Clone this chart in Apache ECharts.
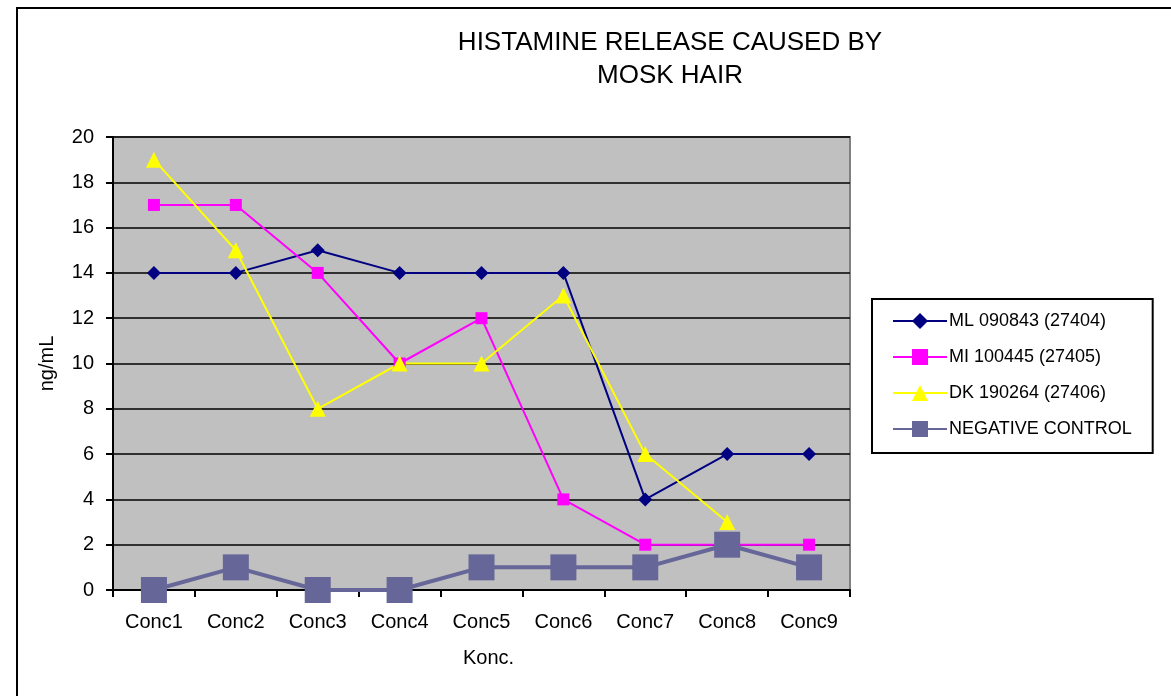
<!DOCTYPE html>
<html>
<head>
<meta charset="utf-8">
<script src="https://cdn.jsdelivr.net/npm/echarts@6/dist/echarts.min.js"></script>
<style>
  html, body { margin: 0; padding: 0; background: #fff; }
  #chart { width: 1171px; height: 696px; }
</style>
</head>
<body>
<div id="chart"></div>
<script>
// data
const categories = ['Conc1', 'Conc2', 'Conc3', 'Conc4', 'Conc5', 'Conc6', 'Conc7', 'Conc8', 'Conc9']
const ml090843 = [14, 14, 15, 14, 14, 14, 4, 6, 6]
const mi100445 = [17, 17, 14, 10, 12, 4, 2, 2, 2]
const dk190264 = [19, 15, 8, 10, 10, 13, 6, 3, null]
const negControl = [0, 1, 0, 0, 1, 1, 1, 2, 1]

const font = 'Arial, "Liberation Sans", sans-serif'

const chart = echarts.init(document.getElementById('chart'))

const option = {
  animation: false,
  backgroundColor: '#fff',
  textStyle: { fontFamily: font },
  graphic: [
    {
      type: 'rect',
      shape: { x: 17, y: 8, width: 1200, height: 720 },
      style: { fill: 'none', stroke: '#000', lineWidth: 2 },
      z: -1
    }
  ],
  title: {
    text: 'HISTAMINE RELEASE CAUSED BY\nMOSK HAIR',
    left: 665,
    top: 21,
    textAlign: 'center',
    textStyle: { fontSize: 26, fontWeight: 'normal', color: '#000', lineHeight: 33, fontFamily: font }
  },
  legend: {
    orient: 'vertical',
    left: 872,
    top: 299,
    padding: [13, 21, 15, 20],
    itemGap: 18,
    itemWidth: 54,
    itemHeight: 20,
    borderColor: '#000',
    borderWidth: 2,
    textStyle: { fontSize: 18, color: '#000', fontFamily: font, padding: [0, 0, 0, -3] },
    data: ['ML 090843 (27404)', 'MI 100445 (27405)', 'DK 190264 (27406)', 'NEGATIVE CONTROL']
  },
  grid: {
    left: 113,
    right: 321,
    top: 137,
    bottom: 106,
    show: true,
    backgroundColor: '#c0c0c0',
    borderColor: '#808080',
    borderWidth: 2
  },
  xAxis: {
    type: 'category',
    data: categories,
    boundaryGap: true,
    name: 'Konc.',
    nameLocation: 'middle',
    nameGap: 58,
    nameTextStyle: { fontSize: 20, color: '#000', padding: [0, 0, 0, 14] },
    axisLine: { lineStyle: { color: '#000', width: 2 } },
    axisTick: { show: true, length: 7, lineStyle: { color: '#000', width: 2 } },
    axisLabel: { fontSize: 20, color: '#000', margin: 22 }
  },
  yAxis: {
    type: 'value',
    min: 0,
    max: 20,
    interval: 2,
    name: 'ng/mL',
    nameLocation: 'middle',
    nameGap: 56,
    nameTextStyle: { fontSize: 20, color: '#000' },
    axisLine: { show: true, lineStyle: { color: '#000', width: 2 } },
    axisTick: { show: true, length: 7, lineStyle: { color: '#000', width: 2 } },
    axisLabel: { fontSize: 20, color: '#000', margin: 19 },
    splitLine: { lineStyle: { color: '#000', width: 1.5 } }
  },
  series: [
    {
      name: 'ML 090843 (27404)',
      type: 'line',
      data: ml090843,
      symbol: 'diamond',
      symbolSize: 14,
      lineStyle: { color: '#000080', width: 2 },
      itemStyle: { color: '#000080' }
    },
    {
      name: 'MI 100445 (27405)',
      type: 'line',
      data: mi100445,
      symbol: 'rect',
      symbolSize: 12,
      lineStyle: { color: '#ff00ff', width: 2 },
      itemStyle: { color: '#ff00ff' }
    },
    {
      name: 'DK 190264 (27406)',
      type: 'line',
      data: dk190264,
      symbol: 'triangle',
      symbolSize: 16,
      lineStyle: { color: '#ffff00', width: 2 },
      itemStyle: { color: '#ffff00' }
    },
    {
      name: 'NEGATIVE CONTROL',
      type: 'line',
      data: negControl,
      symbol: 'rect',
      symbolSize: 26,
      lineStyle: { color: '#666699', width: 4 },
      itemStyle: { color: '#666699' }
    }
  ]
}

chart.setOption(option)
</script>
</body>
</html>
